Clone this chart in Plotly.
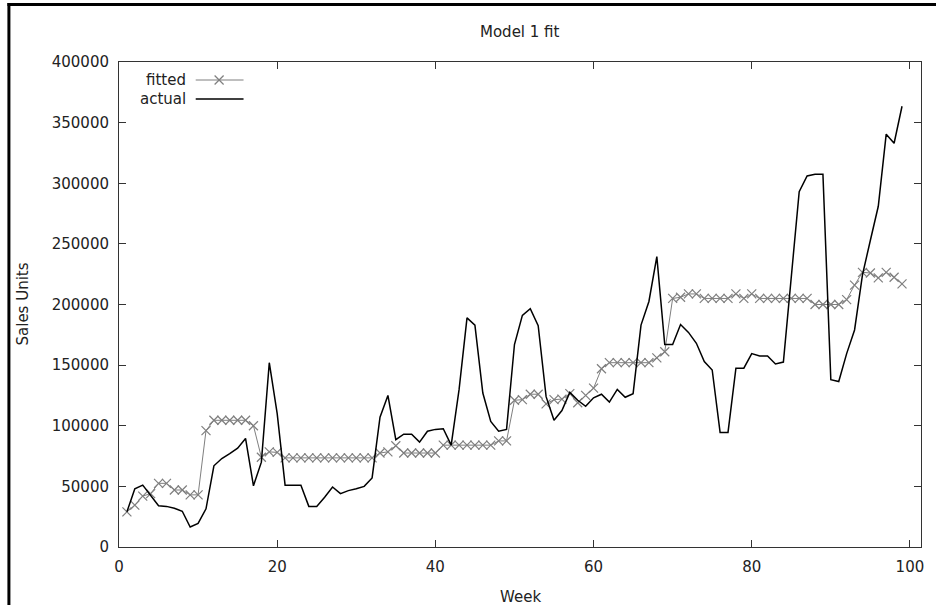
import plotly.graph_objects as go

weeks = list(range(1, 100))

actual = [
    29000, 48000, 51000, 42000, 34000, 33500, 32000, 29500, 16500, 19500,
    31500, 67000, 73000, 77000, 81500, 89500, 50500, 70000, 152000, 110000,
    51000, 51000, 51000, 33500, 33500, 41000, 49500, 44000, 46500, 48000,
    50000, 57000, 107000, 125000, 88500, 93000, 93000, 86500, 95500, 97000,
    97500, 84000, 130000, 189000, 183000, 127000, 103500, 95500, 97000, 167000,
    191000, 196500, 182500, 124000, 104500, 112500, 127500, 121000, 116000, 123000,
    126000, 119500, 130000, 123500, 126500, 183000, 202500, 239500, 167000, 167000,
    183500, 177000, 168000, 153000, 146000, 94500, 94500, 147500, 147500, 159500,
    157500, 157500, 151000, 152500, 222000, 293000, 306000, 307500, 307500, 138000,
    136500, 159500, 179000, 224500, 253000, 281000, 340500, 333000, 363500,
]

fitted = [
    29000, 34500, 42000, 44000, 52500, 52500, 47000, 47000, 43000, 43000,
    96000, 104500, 104500, 104500, 104500, 104500, 100000, 74000, 78500, 78000,
    73500, 73500, 73500, 73500, 73500, 73500, 73500, 73500, 73500, 73500,
    73500, 73500, 77500, 78500, 83500, 77500, 77500, 77500, 77500, 77500,
    84000, 84000, 84000, 84000, 84000, 84000, 84000, 87500, 87500, 121000,
    121500, 126000, 126000, 118000, 121500, 122000, 126500, 119000, 125000, 131000,
    147000, 152000, 152000, 152000, 152000, 152000, 152000, 156000, 161000, 205000,
    206000, 208700, 208700, 205000, 205000, 205000, 205000, 208700, 205000, 208700,
    205000, 205000, 205000, 205000, 205000, 205000, 205000, 200000, 200000, 200000,
    200000, 204000, 216000, 226500, 226000, 222000, 226500, 222500, 217000,
]

x_ticks = [0, 20, 40, 60, 80, 100]
y_ticks = [0, 50000, 100000, 150000, 200000, 250000, 300000, 350000, 400000]

FONT = "DejaVu Sans"
GRAY = "#7f7f7f"

fig = go.Figure()
fig.add_trace(go.Scatter(
    x=weeks, y=fitted, mode="lines+markers", name="fitted",
    line=dict(color=GRAY, width=1),
    marker=dict(symbol="x-thin", size=9, color=GRAY, line=dict(width=1.2, color=GRAY)),
    showlegend=False,
))
fig.add_trace(go.Scatter(
    x=weeks, y=actual, mode="lines", name="actual",
    line=dict(color="black", width=1.5),
    showlegend=False,
))

L, R, T, B = 119, 12, 62, 58
W, H = 936, 605
pw, ph = W - L - R, H - T - B

def px(x):
    return (x - L) / pw

def py(y):
    return (H - B - y) / ph

axis_common = dict(
    showline=True, mirror="ticks", linecolor="#333333", linewidth=1,
    ticks="inside", ticklen=7, tickcolor="#333333", tickwidth=1,
    showgrid=False, zeroline=False,
    tickfont=dict(family=FONT, size=15, color="#222222"),
)

fig.update_layout(
    width=W, height=H,
    margin=dict(l=L, r=R, t=T, b=B),
    plot_bgcolor="white", paper_bgcolor="white",
    xaxis=dict(range=[0, 101.4], tickvals=x_ticks, ticktext=[str(v) for v in x_ticks],
               ticklabelstandoff=6, **axis_common),
    yaxis=dict(range=[0, 400000], tickvals=y_ticks, ticktext=[str(v) for v in y_ticks],
               ticklabelstandoff=6, **axis_common),
    font=dict(family=FONT, size=15, color="#222222"),
)

annotations = [
    dict(text="Model 1 fit", x=0.5, y=1, xref="paper", yref="paper",
         xanchor="center", yanchor="middle", yshift=30, showarrow=False,
         font=dict(family=FONT, size=15)),
    dict(text="Week", x=0.5, y=0, xref="paper", yref="paper",
         xanchor="center", yanchor="middle", yshift=-50, showarrow=False,
         font=dict(family=FONT, size=15)),
    dict(text="Sales Units", x=0, y=0.5, xref="paper", yref="paper",
         xanchor="center", yanchor="middle", xshift=-97, textangle=-90, showarrow=False,
         font=dict(family=FONT, size=15)),
    dict(text="fitted", x=px(188), y=py(80), xref="paper", yref="paper",
         xanchor="right", yanchor="middle", showarrow=False, font=dict(family=FONT, size=15)),
    dict(text="actual", x=px(188), y=py(99), xref="paper", yref="paper",
         xanchor="right", yanchor="middle", showarrow=False, font=dict(family=FONT, size=15)),
]
fig.update_layout(annotations=annotations)

shapes = [
    # outer frame (top and left edges)
    dict(type="line", xref="paper", yref="paper", x0=px(7), x1=px(940), y0=py(4.5), y1=py(4.5),
         line=dict(color="black", width=3), layer="above"),
    dict(type="line", xref="paper", yref="paper", x0=px(8.5), x1=px(8.5), y0=py(3), y1=py(620),
         line=dict(color="black", width=3), layer="above"),
    # legend samples
    dict(type="line", xref="paper", yref="paper", x0=px(196), x1=px(244), y0=py(80), y1=py(80),
         line=dict(color=GRAY, width=1)),
    dict(type="line", xref="paper", yref="paper", x0=px(215), x1=px(224), y0=py(75.5), y1=py(84.5),
         line=dict(color=GRAY, width=1.2)),
    dict(type="line", xref="paper", yref="paper", x0=px(215), x1=px(224), y0=py(84.5), y1=py(75.5),
         line=dict(color=GRAY, width=1.2)),
    dict(type="line", xref="paper", yref="paper", x0=px(196), x1=px(244), y0=py(99), y1=py(99),
         line=dict(color="black", width=1.5)),
]
fig.update_layout(shapes=shapes)

fig.write_html(
    "out.html",
    config={"displayModeBar": False},
    post_script="document.body.style.margin='0px'; document.body.style.overflow='hidden';",
)
